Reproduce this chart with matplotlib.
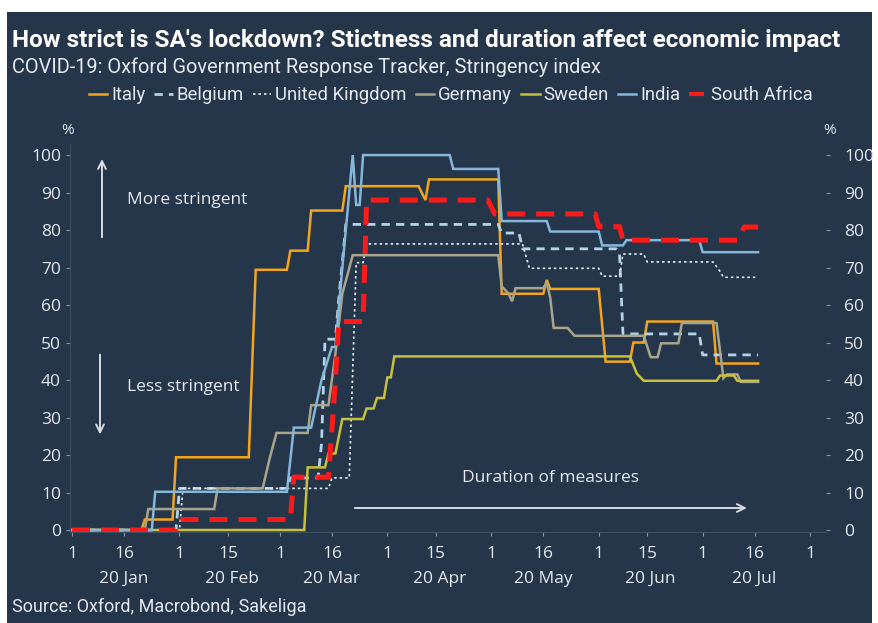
import matplotlib
matplotlib.use("Agg")
import matplotlib.pyplot as plt
import matplotlib.dates as mdates
import pandas as pd
from matplotlib.lines import Line2D
from matplotlib.patches import Rectangle

BG = "#25364a"
TXT = "#e6e9ee"

# Oxford stringency index (change points)
italy_dates = ["2020-01-01", "2020-01-21", "2020-01-22", "2020-01-30", "2020-01-31", "2020-02-21",
               "2020-02-23", "2020-03-03", "2020-03-04", "2020-03-09", "2020-03-10", "2020-03-19",
               "2020-03-20", "2020-04-10", "2020-04-12", "2020-04-13", "2020-05-03", "2020-05-04",
               "2020-05-16", "2020-05-17", "2020-05-18", "2020-06-01", "2020-06-03", "2020-06-10",
               "2020-06-11", "2020-06-14", "2020-06-15", "2020-07-04", "2020-07-05", "2020-07-17"]
italy_vals = [0, 0, 2.8, 2.8, 19.4, 19.4, 69.4, 69.4, 74.5, 74.5, 85.2, 85.2, 91.7, 91.7, 88.0,
              93.5, 93.5, 63.0, 63.0, 66.7, 64.3, 64.3, 44.9, 44.9, 50.0, 50.0, 55.6, 55.6, 44.4, 44.4]

belgium_dates = ["2020-01-01", "2020-01-31", "2020-02-01", "2020-03-03", "2020-03-04", "2020-03-12",
                 "2020-03-13", "2020-03-14", "2020-03-17", "2020-03-18", "2020-03-19", "2020-03-20",
                 "2020-05-03", "2020-05-04", "2020-05-09", "2020-05-10", "2020-06-06", "2020-06-07",
                 "2020-06-08", "2020-06-30", "2020-07-01", "2020-07-17"]
belgium_vals = [0, 0, 11.1, 11.1, 13.9, 13.9, 23.1, 50.9, 50.9, 62.0, 71.3, 81.5,
                81.5, 79.2, 79.2, 75.0, 75.0, 73.8, 52.3, 52.3, 46.7, 46.7]

uk_dates = ["2020-01-01", "2020-02-01", "2020-02-02", "2020-03-15", "2020-03-16", "2020-03-21",
            "2020-03-23", "2020-03-25", "2020-03-26", "2020-05-10", "2020-05-12", "2020-06-01",
            "2020-06-02", "2020-06-07", "2020-06-08", "2020-06-14", "2020-06-15", "2020-07-04",
            "2020-07-06", "2020-07-07", "2020-07-17"]
uk_vals = [0, 0, 11.1, 11.1, 13.9, 13.9, 71.3, 71.3, 76.3, 76.3, 69.8, 69.8,
           67.7, 67.7, 73.6, 73.6, 71.5, 71.5, 69.0, 67.4, 67.4]

germany_dates = ["2020-01-01", "2020-01-22", "2020-01-23", "2020-02-11", "2020-02-12", "2020-02-25",
                 "2020-02-27", "2020-02-29", "2020-03-09", "2020-03-10", "2020-03-15", "2020-03-17",
                 "2020-03-19", "2020-03-22", "2020-05-03", "2020-05-04", "2020-05-06", "2020-05-07",
                 "2020-05-08", "2020-05-16", "2020-05-17", "2020-05-18", "2020-05-19", "2020-05-23",
                 "2020-05-25", "2020-06-14", "2020-06-16", "2020-06-18", "2020-06-19", "2020-06-24",
                 "2020-06-25", "2020-07-05", "2020-07-07", "2020-07-08", "2020-07-11", "2020-07-12",
                 "2020-07-17"]
germany_vals = [0, 0, 5.6, 5.6, 11.1, 11.1, 19.0, 25.9, 25.9, 33.3, 33.3, 47.0,
                63.0, 73.3, 73.3, 65.0, 63.0, 61.0, 64.5, 64.5, 66.0, 62.0, 53.9, 53.9,
                51.8, 51.8, 46.1, 46.1, 49.8, 49.8, 55.2, 55.2, 40.5, 41.5, 41.5, 39.5, 39.5]

sweden_dates = ["2020-01-01", "2020-03-08", "2020-03-09", "2020-03-14", "2020-03-15", "2020-03-17",
                "2020-03-19", "2020-03-25", "2020-03-26", "2020-03-28", "2020-03-29", "2020-03-31",
                "2020-04-01", "2020-04-02", "2020-04-03", "2020-06-10", "2020-06-12", "2020-06-14",
                "2020-07-05", "2020-07-06", "2020-07-10", "2020-07-11", "2020-07-17"]
sweden_vals = [0, 0, 16.7, 16.7, 20.4, 20.4, 29.6, 29.6, 32.4, 32.4, 35.2, 35.2,
               40.7, 40.7, 46.3, 46.3, 41.7, 39.8, 39.8, 41.2, 41.2, 39.8, 39.8]

india_dates = ["2020-01-01", "2020-01-24", "2020-01-25", "2020-03-03", "2020-03-05", "2020-03-10",
               "2020-03-13", "2020-03-16", "2020-03-17", "2020-03-19", "2020-03-21", "2020-03-22",
               "2020-03-23", "2020-03-24", "2020-03-25", "2020-04-19", "2020-04-20", "2020-05-03",
               "2020-05-04", "2020-05-17", "2020-05-18", "2020-06-01", "2020-06-02", "2020-06-08",
               "2020-06-09", "2020-06-30", "2020-07-01", "2020-07-17"]
india_vals = [0, 0, 10.2, 10.2, 27.3, 27.3, 40.0, 48.8, 48.8, 70.0, 90.0, 100.0,
              86.7, 86.7, 100.0, 100.0, 96.3, 96.3, 82.4, 82.4, 79.6, 79.6, 75.9, 75.9,
              77.3, 77.3, 74.1, 74.1]

sa_dates = ["2020-01-01", "2020-01-31", "2020-02-01", "2020-03-04", "2020-03-05", "2020-03-15",
            "2020-03-17", "2020-03-18", "2020-03-25", "2020-03-26", "2020-04-30", "2020-05-02",
            "2020-05-31", "2020-06-01", "2020-06-07", "2020-06-08", "2020-07-11", "2020-07-13",
            "2020-07-17"]
sa_vals = [0, 0, 2.8, 2.8, 14.1, 14.1, 40.0, 55.6, 55.6, 88.0, 88.0, 84.3,
           84.3, 80.9, 80.9, 77.3, 77.3, 80.8, 80.8]

series = [
    ("Italy", italy_dates, italy_vals, "#f4a51c", "-", 1.8),
    ("Belgium", belgium_dates, belgium_vals, "#b3d3ea", (0, (3, 2.2)), 2.0),
    ("United Kingdom", uk_dates, uk_vals, "#e8edf3", (0, (1.5, 1.8)), 1.2),
    ("Germany", germany_dates, germany_vals, "#a9a58c", "-", 1.8),
    ("Sweden", sweden_dates, sweden_vals, "#c8c13c", "-", 1.8),
    ("India", india_dates, india_vals, "#86b7da", "-", 1.8),
    ("South Africa", sa_dates, sa_vals, "#ff1a1a", (0, (3.6, 2.2)), 3.6),
]

month_labels = ["20 Jan", "20 Feb", "20 Mar", "20 Apr", "20 May", "20 Jun", "20 Jul"]
tick_dates = ["2020-01-01", "2020-01-16", "2020-02-01", "2020-02-15", "2020-03-01", "2020-03-16",
              "2020-04-01", "2020-04-15", "2020-05-01", "2020-05-16", "2020-06-01", "2020-06-15",
              "2020-07-01", "2020-07-16", "2020-08-01"]
tick_labels = ["1", "16", "1", "15", "1", "16", "1", "15", "1", "16", "1", "15", "1", "16", "1"]

narrow = ["Roboto", "DejaVu Sans"]
regular = ["Open Sans", "DejaVu Sans"]

W, H = 879, 623
fig = plt.figure(figsize=(W / 100, H / 100), dpi=100, facecolor="white")
fig.patches.append(Rectangle((7 / W, 0), 865 / W, (H - 12) / H, transform=fig.transFigure,
                             facecolor=BG, edgecolor="none", zorder=-5))

ax = fig.add_axes([70 / W, 1 - 531.9 / H, 756 / W, 388.1 / H])
ax.set_facecolor(BG)
ax.patch.set_alpha(0)

for name, d, v, col, ls, lw in series:
    ax.plot(pd.to_datetime(d), v, color=col, linestyle=ls, linewidth=lw, label=name,
            solid_joinstyle="miter")

ax.set_xlim(mdates.date2num(pd.Timestamp("2020-01-01")) - 0.6,
            mdates.date2num(pd.Timestamp("2020-08-01")) + 4.6)
ax.set_ylim(-0.5, 103)

ax.set_xticks(pd.to_datetime(tick_dates))
ax.set_xticklabels(tick_labels)
ax.set_yticks(range(0, 101, 10))
for spine in ["top", "right"]:
    ax.spines[spine].set_visible(False)
for spine in ["left", "bottom"]:
    ax.spines[spine].set_color("#3e4f63")
    ax.spines[spine].set_linewidth(0.8)
ax.tick_params(axis="both", colors="#8a96a5", length=3, width=0.8, labelcolor=TXT, labelsize=12.5)
ax.tick_params(axis="x", pad=7)
for lab in ax.get_xticklabels() + ax.get_yticklabels():
    lab.set_family(regular)

ax2 = ax.twinx()
ax2.set_ylim(ax.get_ylim())
ax2.set_yticks(range(0, 101, 10))
ax2.patch.set_alpha(0)
for spine in ax2.spines.values():
    spine.set_visible(False)
ax2.tick_params(axis="y", colors="#8a96a5", length=3, width=0.8, labelcolor=TXT,
                labelsize=12.5, pad=10)
for lab in ax2.get_yticklabels():
    lab.set_family(regular)

# month labels under mid-month ticks
for i, m in enumerate(month_labels):
    ax.text(pd.Timestamp(f"2020-{i + 1:02d}-16"), -0.122, m, transform=ax.get_xaxis_transform(),
            ha="center", va="center", color=TXT, fontsize=12.5, family=regular)

fig.text(68 / W, 1 - 130 / H, "%", color=TXT, fontsize=11, ha="center", va="center", family=regular)
fig.text(830 / W, 1 - 130 / H, "%", color=TXT, fontsize=11, ha="center", va="center", family=regular)

# annotations
arrow = dict(arrowstyle="->", color="#d8dce2", lw=1.4, mutation_scale=14)
ax.annotate("", xy=(0.0423, 0.968), xytext=(0.0423, 0.752), xycoords="axes fraction", arrowprops=arrow)
ax.text(0.0754, 0.855, "More stringent", transform=ax.transAxes, color=TXT, fontsize=12.5,
        va="center", family=regular)
ax.annotate("", xy=(0.0397, 0.244), xytext=(0.0397, 0.464), xycoords="axes fraction", arrowprops=arrow)
ax.text(0.0754, 0.3735, "Less stringent", transform=ax.transAxes, color=TXT, fontsize=12.5,
        va="center", family=regular)
ax.annotate("", xy=(0.899, 0.0616), xytext=(0.373, 0.0616), xycoords="axes fraction", arrowprops=arrow)
ax.text(0.636, 0.139, "Duration of measures", transform=ax.transAxes, color=TXT, fontsize=12.5,
        ha="center", va="center", family=regular)

# titles
fig.text(12 / W, 1 - 40 / H, "How strict is SA's lockdown? Stictness and duration affect economic impact",
         color="white", fontsize=17.5, fontweight="bold", va="center", family=narrow)
fig.text(12 / W, 1 - 67 / H, "COVID-19: Oxford Government Response Tracker, Stringency index",
         color=TXT, fontsize=14.4, va="center", family=narrow)
fig.text(12 / W, 1 - 607 / H, "Source: Oxford, Macrobond, Sakeliga",
         color=TXT, fontsize=13, va="center", family=narrow)

handles = [Line2D([], [], color=c, linestyle=ls, linewidth=min(lw, 3)) for _, _, _, c, ls, lw in series]
labels = [s[0] for s in series]
leg = fig.legend(handles, labels, loc="center", bbox_to_anchor=(451 / W, 1 - 95 / H), ncol=7,
                 frameon=False, handlelength=1.0, handletextpad=0.2, columnspacing=0.5,
                 prop={"family": narrow, "size": 13.3})
for t in leg.get_texts():
    t.set_color(TXT)

fig.savefig("out.png", dpi=100, facecolor="white")
